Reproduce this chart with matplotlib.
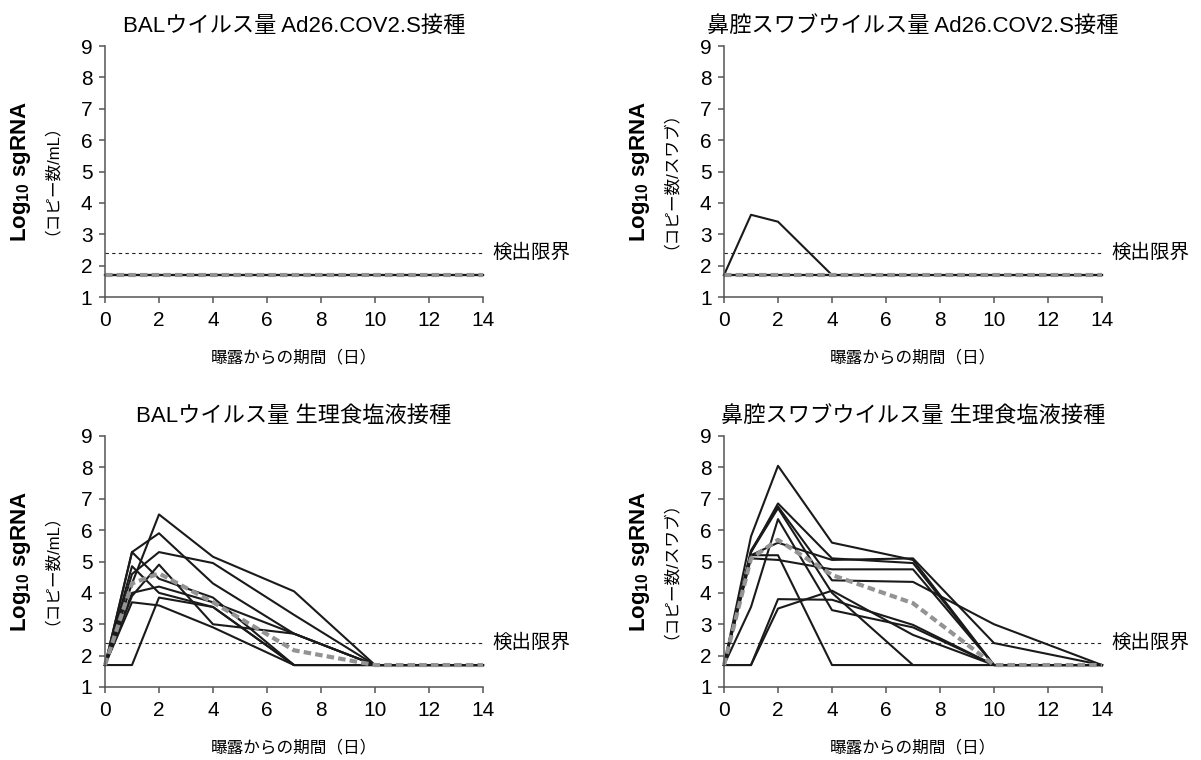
import matplotlib.pyplot as plt

plt.rcParams['font.family'] = ['Liberation Sans', 'Noto Sans CJK JP']

# sampling days after exposure
days = [0, 1, 2, 4, 7, 10, 14]
lod = 2.4

# BAL, Ad26.COV2.S (all below detection)
bal_vax = [
    [1.7, 1.7, 1.7, 1.7, 1.7, 1.7, 1.7],
    [1.7, 1.7, 1.7, 1.7, 1.7, 1.7, 1.7],
    [1.7, 1.7, 1.7, 1.7, 1.7, 1.7, 1.7],
    [1.7, 1.7, 1.7, 1.7, 1.7, 1.7, 1.7],
]
bal_vax_mean = [1.7, 1.7, 1.7, 1.7, 1.7, 1.7, 1.7]

# nasal swab, Ad26.COV2.S
ns_vax = [
    [1.7, 3.62, 3.4, 1.7, 1.7, 1.7, 1.7],
    [1.7, 1.7, 1.7, 1.7, 1.7, 1.7, 1.7],
    [1.7, 1.7, 1.7, 1.7, 1.7, 1.7, 1.7],
    [1.7, 1.7, 1.7, 1.7, 1.7, 1.7, 1.7],
]
ns_vax_mean = [1.7, 1.7, 1.7, 1.7, 1.7, 1.7, 1.7]

# BAL, sham
bal_sham = [
    [1.7, 4.3, 6.5, 5.15, 4.05, 1.7, 1.7],
    [1.7, 5.3, 5.9, 4.3, 2.7, 1.7, 1.7],
    [1.7, 4.6, 5.3, 4.95, 3.3, 1.7, 1.7],
    [1.7, 5.3, 4.45, 3.85, 1.7, 1.7, 1.7],
    [1.7, 3.9, 4.9, 3.0, 2.7, 1.7, 1.7],
    [1.7, 4.85, 4.0, 3.55, 1.7, 1.7, 1.7],
    [1.7, 3.7, 3.6, 2.9, 1.7, 1.7, 1.7],
    [1.7, 1.7, 3.85, 3.55, 1.7, 1.7, 1.7],
    [1.7, 4.0, 4.2, 3.7, 2.7, 1.7, 1.7],
]
bal_sham_mean = [1.7, 4.3, 4.62, 3.7, 2.17, 1.7, 1.7]

# nasal swab, sham
ns_sham = [
    [1.7, 5.8, 8.05, 5.6, 5.05, 1.7, 1.7],
    [1.7, 5.3, 6.85, 5.1, 4.95, 1.7, 1.7],
    [1.7, 5.35, 6.75, 4.4, 4.35, 3.0, 1.7],
    [1.7, 5.2, 5.6, 5.05, 5.1, 2.4, 1.7],
    [1.7, 5.1, 5.05, 4.75, 4.75, 1.7, 1.7],
    [1.7, 3.55, 6.35, 3.45, 2.9, 1.7, 1.7],
    [1.7, 5.2, 5.2, 1.7, 1.7, 1.7, 1.7],
    [1.7, 1.7, 3.8, 3.78, 2.98, 1.7, 1.7],
    [1.7, 1.7, 3.5, 4.07, 2.66, 1.7, 1.7],
    [1.7, 5.3, 6.7, 4.0, 1.7, 1.7, 1.7],
]
ns_sham_mean = [1.7, 5.1, 5.69, 4.57, 3.67, 1.7, 1.7]

titles = ['BALウイルス量 Ad26.COV2.S接種', '鼻腔スワブウイルス量 Ad26.COV2.S接種',
          'BALウイルス量 生理食塩液接種', '鼻腔スワブウイルス量 生理食塩液接種']
units = ['（コピー数/mL）', '（コピー数/スワブ）', '（コピー数/mL）', '（コピー数/スワブ）']
panels = [(bal_vax, bal_vax_mean), (ns_vax, ns_vax_mean),
          (bal_sham, bal_sham_mean), (ns_sham, ns_sham_mean)]

W, H = 1201, 760
fig = plt.figure(figsize=(W / 100, H / 100), dpi=100)
lefts = [105, 724, 105, 724]
bottoms = [297, 297, 687, 687]

for i in range(4):
    ax = fig.add_axes([lefts[i] / W, 1 - bottoms[i] / H, 378 / W, 251 / H])
    lines, mean = panels[i]
    ax.axhline(lod, color='#222222', lw=0.8, ls=(0, (3, 3)))
    for y in lines:
        ax.plot(days, y, color='#1a1a1a', lw=1.5, clip_on=False)
    ax.plot(days, mean, color='#939393', lw=3, ls=(0, (1.8, 1.0)), clip_on=False)
    ax.set_xlim(0, 14)
    ax.set_ylim(1, 9)
    ax.set_xticks(range(0, 15, 2))
    ax.set_yticks(range(1, 10))
    for s in ['top', 'right']:
        ax.spines[s].set_visible(False)
    for s in ['left', 'bottom']:
        ax.spines[s].set_color('#555555')
        ax.spines[s].set_linewidth(1.1)
    ax.tick_params(axis='x', length=4, width=1.1, color='#555555', pad=6, labelsize=15)
    ax.tick_params(axis='y', length=4, width=1.1, color='#555555', pad=5, labelsize=15)
    ax.set_title(titles[i], fontsize=16, pad=10)
    ax.set_xlabel('曝露からの期間（日）', fontsize=12, labelpad=14)
    ax.text(-0.222, 0.5, 'Log$_\\mathregular{10}$ sgRNA', transform=ax.transAxes,
            rotation=90, ha='center', va='center', fontsize=16, fontweight='bold')
    ax.text(-0.165, 0.5, units[i], transform=ax.transAxes,
            rotation=90, ha='center', va='center', fontsize=12)
    ax.annotate('検出限界', xy=(14, lod), xytext=(7, 0), textcoords='offset points',
                ha='left', va='center', fontsize=14, annotation_clip=False)

fig.savefig('out.png', dpi=100)
